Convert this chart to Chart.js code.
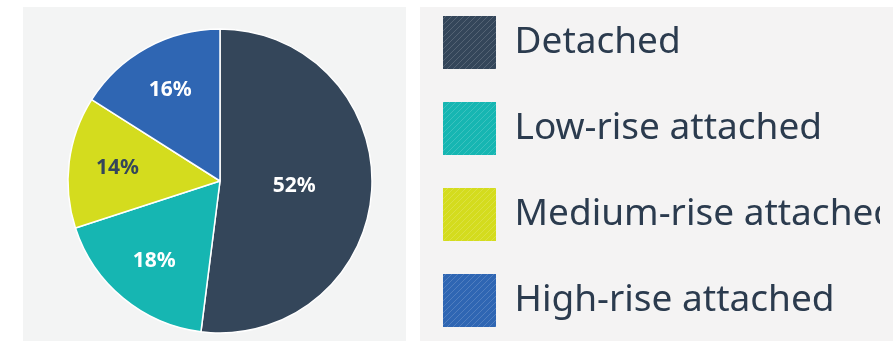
<!DOCTYPE html>
<html>
<head>
    <title>Dwelling types</title>
    <script src="https://cdn.jsdelivr.net/npm/chart.js"></script>
    <style>
        html, body { margin: 0; padding: 0; background: #fff; overflow: hidden; }
        #wrap { position: relative; width: 893px; height: 360px; }
    </style>
</head>
<body>
    <div id="wrap"><canvas id="myChart"></canvas></div>
    <script>
        var labels = ['Detached', 'Low-rise attached', 'Medium-rise attached', 'High-rise attached'];
        var shares = [52, 18, 14, 16]; // percent
        var colors = ['#34465a', '#16b6b2', '#d4dc1e', '#2f66b3'];
        var labelColors = ['#ffffff', '#ffffff', '#34465a', '#ffffff'];

        var ctx = document.getElementById('myChart').getContext('2d');

        // fine diagonal hatch used on the legend swatches
        function hatch(color) {
            var c = document.createElement('canvas');
            c.width = 6; c.height = 6;
            var g = c.getContext('2d');
            g.fillStyle = color;
            g.fillRect(0, 0, 6, 6);
            g.strokeStyle = 'rgba(255,255,255,0.16)';
            g.lineWidth = 1;
            g.beginPath();
            g.moveTo(0, 6); g.lineTo(6, 0);
            g.moveTo(-3, 3); g.lineTo(3, -3);
            g.moveTo(3, 9); g.lineTo(9, 3);
            g.stroke();
            return ctx.createPattern(c, 'repeat');
        }

        var panels = {
            id: 'panels',
            beforeDraw: function(chart) {
                var c = chart.ctx;
                c.save();
                c.fillStyle = '#f3f4f4';
                c.fillRect(23, 7, 383, 360);
                c.fillStyle = '#f4f3f3';
                c.fillRect(420, 7, 480, 360);
                c.restore();
            }
        };

        var sliceLabels = {
            id: 'sliceLabels',
            afterDatasetsDraw: function(chart) {
                var c = chart.ctx;
                var meta = chart.getDatasetMeta(0);
                c.save();
                c.font = '700 21px "Noto Sans", sans-serif';
                c.textAlign = 'center';
                c.textBaseline = 'middle';
                meta.data.forEach(function(arc, i) {
                    var p = arc.getProps(['x', 'y', 'startAngle', 'endAngle', 'outerRadius'], true);
                    var mid = (p.startAngle + p.endAngle) / 2;
                    var k = shares[i] > 40 ? 0.49 : 0.68;
                    c.fillStyle = labelColors[i];
                    c.fillText(shares[i] + '%', p.x + Math.cos(mid) * p.outerRadius * k, p.y + Math.sin(mid) * p.outerRadius * k);
                });
                c.restore();
            }
        };

        var myChart = new Chart(ctx, {
            type: 'pie',
            data: {
                labels: labels,
                datasets: [{
                    data: shares,
                    backgroundColor: colors,
                    borderColor: '#ffffff',
                    borderWidth: 1.5,
                    radius: 152
                }]
            },
            options: {
                responsive: true,
                maintainAspectRatio: false,
                animation: false,
                layout: { padding: { left: 0, right: 13, top: 2, bottom: 0 } },
                plugins: {
                    tooltip: { enabled: false },
                    legend: {
                        position: 'right',
                        align: 'end',
                        labels: {
                            boxWidth: 53,
                            boxHeight: 53,
                            padding: 3,
                            color: '#2b3b4e',
                            textAlign: 'left',
                            font: { family: "'Noto Sans', sans-serif", size: 37, lineHeight: '83px' },
                            generateLabels: function(chart) {
                                return labels.map(function(l, i) {
                                    return {
                                        text: [l],
                                        fillStyle: hatch(colors[i]),
                                        strokeStyle: 'rgba(0,0,0,0)',
                                        lineWidth: 0,
                                        fontColor: '#2b3b4e',
                                        hidden: false,
                                        index: i
                                    };
                                });
                            }
                        }
                    }
                }
            },
            plugins: [panels, sliceLabels]
        });
    </script>
</body>
</html>
